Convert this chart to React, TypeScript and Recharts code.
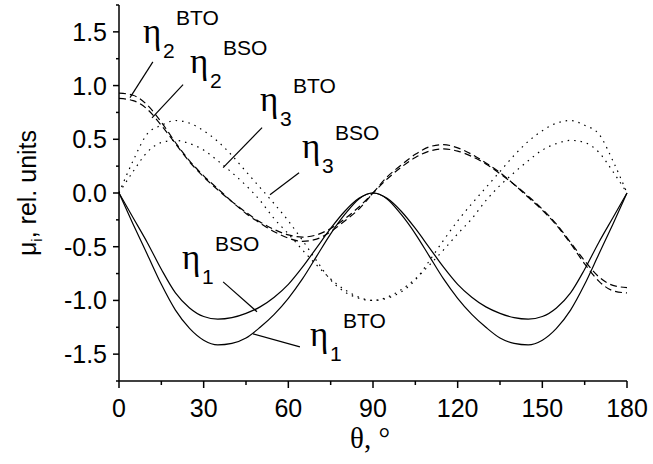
import React from 'react';
import { LineChart, Line, XAxis, YAxis, ReferenceLine, ReferenceDot, Label } from 'recharts';

// angle theta, degrees
const thetaDeg = [0, 5, 10, 15, 20, 25, 30, 35, 40, 45, 50, 55, 60, 65, 70, 75, 80, 85, 90,
  95, 100, 105, 110, 115, 120, 125, 130, 135, 140, 145, 150, 155, 160, 165, 170, 175, 180];

// eta1 (solid)
const eta1BTO = [0, -0.29, -0.57, -0.85, -1.09, -1.26, -1.37, -1.414, -1.40, -1.35, -1.25, -1.13, -0.98, -0.80, -0.59, -0.38, -0.20, -0.055, 0,
  -0.055, -0.20, -0.38, -0.59, -0.80, -0.98, -1.13, -1.25, -1.35, -1.40, -1.414, -1.37, -1.26, -1.09, -0.85, -0.57, -0.29, 0];
const eta1BSO = [0, -0.23, -0.46, -0.71, -0.93, -1.07, -1.15, -1.174, -1.16, -1.12, -1.06, -0.97, -0.85, -0.69, -0.51, -0.33, -0.17, -0.05, 0,
  -0.05, -0.17, -0.33, -0.51, -0.69, -0.85, -0.97, -1.06, -1.12, -1.16, -1.174, -1.15, -1.07, -0.93, -0.71, -0.46, -0.23, 0];

// eta2 (dashed)
const eta2BTO = [0.93, 0.91, 0.82, 0.66, 0.47, 0.30, 0.16, 0.04, -0.08, -0.19, -0.28, -0.36, -0.42, -0.45, -0.43, -0.36, -0.26, -0.15, 0,
  0.15, 0.26, 0.36, 0.43, 0.45, 0.42, 0.36, 0.28, 0.19, 0.08, -0.04, -0.16, -0.30, -0.47, -0.66, -0.82, -0.91, -0.93];
const eta2BSO = [0.88, 0.86, 0.78, 0.63, 0.46, 0.29, 0.15, 0.03, -0.08, -0.18, -0.27, -0.34, -0.39, -0.41, -0.39, -0.33, -0.24, -0.13, 0,
  0.13, 0.24, 0.33, 0.39, 0.41, 0.39, 0.34, 0.27, 0.18, 0.08, -0.03, -0.15, -0.29, -0.46, -0.63, -0.78, -0.86, -0.88];

// eta3 (dotted)
const eta3BSO = [0, 0.30, 0.55, 0.63, 0.675, 0.65, 0.58, 0.48, 0.35, 0.20, 0.05, -0.10, -0.26, -0.44, -0.63, -0.81, -0.92, -0.98, -1.0,
  -0.98, -0.92, -0.81, -0.63, -0.44, -0.26, -0.10, 0.05, 0.20, 0.35, 0.48, 0.58, 0.65, 0.675, 0.63, 0.55, 0.30, 0];
const eta3BTO = [0, 0.20, 0.38, 0.47, 0.49, 0.46, 0.40, 0.30, 0.19, 0.07, -0.07, -0.24, -0.38, -0.53, -0.67, -0.80, -0.90, -0.97, -1.0,
  -0.97, -0.90, -0.80, -0.67, -0.53, -0.38, -0.24, -0.07, 0.07, 0.19, 0.30, 0.40, 0.46, 0.49, 0.47, 0.38, 0.20, 0];

// ticks
const xMajorTicks = [0, 30, 60, 90, 120, 150, 180];
const xAllTicks = [0, 15, 30, 45, 60, 75, 90, 105, 120, 135, 150, 165, 180];
const yMajorTicks = [-1.5, -1, -0.5, 0, 0.5, 1, 1.5];
const yAllTicks = [-1.75, -1.5, -1.25, -1, -0.75, -0.5, -0.25, 0, 0.25, 0.5, 0.75, 1, 1.25, 1.5, 1.75];

// annotation labels (data coordinates) and leader lines
const annotations = [
  { sub: '2', sup: 'BTO', x: 8.5, y: 1.40, x1: 12.0, y1: 1.22, x2: 3.9, y2: 0.888 },
  { sub: '2', sup: 'BSO', x: 25.2, y: 1.12, x1: 22.7, y1: 1.009, x2: 11.7, y2: 0.70 },
  { sub: '3', sup: 'BTO', x: 50.0, y: 0.766, x1: 50.7, y1: 0.608, x2: 36.9, y2: 0.236 },
  { sub: '3', sup: 'BSO', x: 64.8, y: 0.329, x1: 63.8, y1: 0.189, x2: 53.5, y2: -0.016 },
  { sub: '1', sup: 'BSO', x: 22.3, y: -0.705, x1: 36.9, y1: -0.827, x2: 48.9, y2: -1.106 },
  { sub: '1', sup: 'BTO', x: 67.7, y: -1.423, x1: 47.5, y1: -1.311, x2: 64.1, y2: -1.433 },
];

const data = thetaDeg.map((t, i) => ({
  theta: t,
  e1BTO: eta1BTO[i],
  e1BSO: eta1BSO[i],
  e2BTO: eta2BTO[i],
  e2BSO: eta2BSO[i],
  e3BTO: eta3BTO[i],
  e3BSO: eta3BSO[i],
}));

const SANS = '"Liberation Sans", Arial, Helvetica, sans-serif';
const SERIF = '"Liberation Serif", "Times New Roman", serif';

const XTick = (props: any) => {
  const { x, y, payload } = props;
  const v = payload.value;
  const major = xMajorTicks.includes(v);
  return (
    <g>
      <line x1={x} x2={x} y1={y} y2={y + (major ? 7 : 4)} stroke="#000" strokeWidth={1.5} />
      {major && (
        <text x={x} y={y + 36} textAnchor="middle" fontFamily={SANS} fontSize={25} fill="#000">
          {v}
        </text>
      )}
    </g>
  );
};

const YTick = (props: any) => {
  const { x, y, payload } = props;
  const v = payload.value;
  const major = yMajorTicks.some((m) => Math.abs(m - v) < 1e-9);
  return (
    <g>
      <line x1={x - (major ? 6 : 3)} x2={x} y1={y} y2={y} stroke="#000" strokeWidth={1.5} />
      {major && (
        <text x={x - 12} y={y + 9} textAnchor="end" fontFamily={SANS} fontSize={25} fill="#000">
          {v.toFixed(1)}
        </text>
      )}
    </g>
  );
};

const EtaLabel = ({ cx, cy, sub, sup }: any) => (
  <g>
    <text x={cx} y={cy} fontFamily={SERIF} fontSize={35} fill="#000">η</text>
    <text x={cx + 20} y={cy + 15} fontFamily={SANS} fontSize={21} fill="#000">{sub}</text>
    <text x={cx + 33} y={cy - 18} fontFamily={SANS} fontSize={21} fill="#000">{sup}</text>
  </g>
);

const XTitle = (props: any) => {
  const vb = props.viewBox || {};
  const cx = vb.x + vb.width / 2 - 3;
  const y = vb.y + 67;
  return (
    <text x={cx} y={y} textAnchor="middle" fontFamily={SERIF} fontSize={29} fill="#000">
      θ, °
    </text>
  );
};

const YTitle = (props: any) => {
  const vb = props.viewBox || {};
  const cx = vb.x - 23;
  const cy = vb.y + vb.height / 2;
  return (
    <text x={cx} y={cy} textAnchor="middle" fontFamily={SANS} fontSize={25} fill="#000" transform={`rotate(-90, ${cx}, ${cy})`}>
      <tspan>μ</tspan>
      <tspan fontSize={15} dy={6}>i</tspan>
      <tspan dy={-6}>, rel. units</tspan>
    </text>
  );
};

export default function App() {
  return (
    <div style={{ position: 'absolute', left: 0, top: 0, background: '#fff' }}>
      <LineChart width={653} height={464} data={data} margin={{ top: 5, right: 26, bottom: 53, left: 59 }}>
        <XAxis
          dataKey="theta"
          type="number"
          domain={[0, 180]}
          ticks={xAllTicks}
          interval={0}
          tickSize={0}
          tickMargin={0}
          tickLine={false}
          tick={<XTick />}
          axisLine={{ stroke: '#000', strokeWidth: 1.5 }}
          height={30}
        >
          <Label content={<XTitle />} />
        </XAxis>
        <YAxis
          type="number"
          domain={[-1.75, 1.75]}
          ticks={yAllTicks}
          interval={0}
          tickSize={0}
          tickMargin={0}
          tickLine={false}
          tick={<YTick />}
          axisLine={{ stroke: '#000', strokeWidth: 1.5 }}
          width={60}
        >
          <Label content={<YTitle />} />
        </YAxis>

        <Line dataKey="e3BSO" type="monotone" stroke="#000" strokeWidth={1.2} strokeDasharray="1.5 5" dot={false} activeDot={false} isAnimationActive={false} />
        <Line dataKey="e3BTO" type="monotone" stroke="#000" strokeWidth={1.2} strokeDasharray="1.5 5" dot={false} activeDot={false} isAnimationActive={false} />
        <Line dataKey="e2BTO" type="monotone" stroke="#000" strokeWidth={1.2} strokeDasharray="7 4" dot={false} activeDot={false} isAnimationActive={false} />
        <Line dataKey="e2BSO" type="monotone" stroke="#000" strokeWidth={1.2} strokeDasharray="7 4" dot={false} activeDot={false} isAnimationActive={false} />
        <Line dataKey="e1BTO" type="monotone" stroke="#000" strokeWidth={1.2} dot={false} activeDot={false} isAnimationActive={false} />
        <Line dataKey="e1BSO" type="monotone" stroke="#000" strokeWidth={1.2} dot={false} activeDot={false} isAnimationActive={false} />

        {annotations.map((a, i) => (
          <ReferenceLine
            key={'l' + i}
            segment={[{ x: a.x1, y: a.y1 }, { x: a.x2, y: a.y2 }]}
            stroke="#000"
            strokeWidth={1.2}
          />
        ))}
        {annotations.map((a, i) => (
          <ReferenceDot
            key={'d' + i}
            x={a.x}
            y={a.y}
            r={0}
            shape={(p: any) => <EtaLabel cx={p.cx} cy={p.cy} sub={a.sub} sup={a.sup} />}
          />
        ))}
      </LineChart>
    </div>
  );
}
